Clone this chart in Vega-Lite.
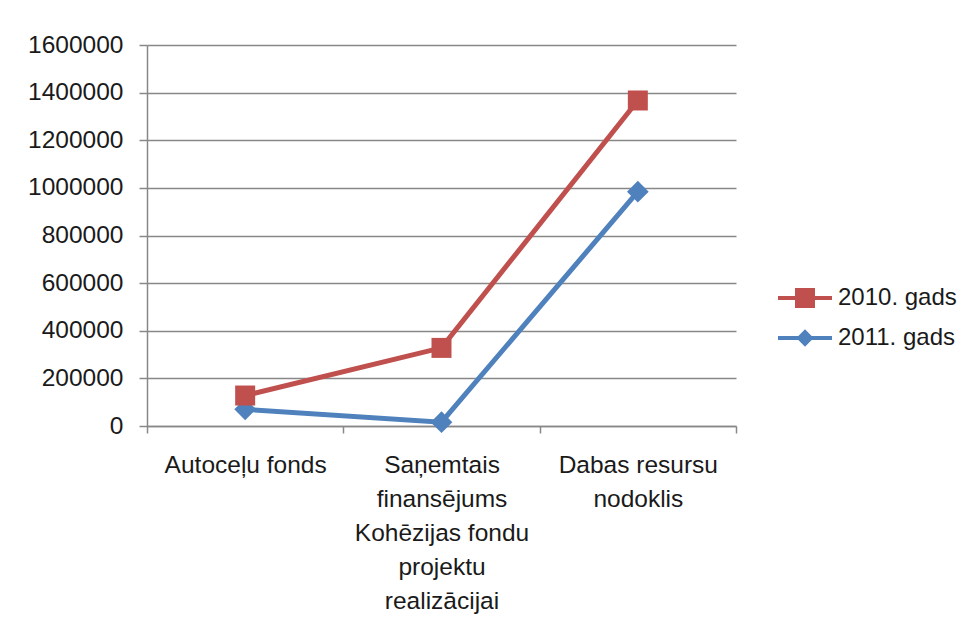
{
  "$schema": "https://vega.github.io/schema/vega-lite/v6.json",
  "autosize": "none",
  "width": 589,
  "height": 381,
  "padding": {"left": 147, "top": 45, "right": 232, "bottom": 206},
  "background": "white",
  "config": {
    "view": {"stroke": null},
    "font": "Liberation Sans",
    "axis": {"labelFont": "Liberation Sans", "labelColor": "#1a1a1a", "domainColor": "#888888", "tickColor": "#888888", "gridColor": "#888888", "domainWidth": 1.5, "tickWidth": 1.5, "gridWidth": 1.5}
  },
  "data": {
    "values": [
      {"kategorija": "Autoceļu fonds", "gads": "2011. gads", "vertiba": 70000},
      {"kategorija": "Saņemtais finansējums Kohēzijas fondu projektu realizācijai", "gads": "2011. gads", "vertiba": 16000},
      {"kategorija": "Dabas resursu nodoklis", "gads": "2011. gads", "vertiba": 984000},
      {"kategorija": "Autoceļu fonds", "gads": "2010. gads", "vertiba": 128000},
      {"kategorija": "Saņemtais finansējums Kohēzijas fondu projektu realizācijai", "gads": "2010. gads", "vertiba": 328000},
      {"kategorija": "Dabas resursu nodoklis", "gads": "2010. gads", "vertiba": 1367000}
    ]
  },
  "encoding": {
    "x": {
      "field": "kategorija",
      "type": "nominal",
      "sort": ["Autoceļu fonds", "Saņemtais finansējums Kohēzijas fondu projektu realizācijai", "Dabas resursu nodoklis"],
      "title": null,
      "scale": {"paddingInner": 0, "paddingOuter": 0},
      "axis": {
        "labelAngle": 0,
        "labelFontSize": 24.5,
        "labelLineHeight": 34,
        "labelPadding": 20,
        "labelBaseline": "top",
        "tickSize": 7,
        "tickBand": "extent",
        "grid": false,
        "labelExpr": "datum.value == 'Saņemtais finansējums Kohēzijas fondu projektu realizācijai' ? ['Saņemtais', 'finansējums', 'Kohēzijas fondu', 'projektu', 'realizācijai'] : datum.value == 'Dabas resursu nodoklis' ? ['Dabas resursu', 'nodoklis'] : datum.value"
      }
    },
    "y": {
      "field": "vertiba",
      "type": "quantitative",
      "title": null,
      "scale": {"domain": [0, 1600000], "nice": false},
      "axis": {
        "values": [0, 200000, 400000, 600000, 800000, 1000000, 1200000, 1400000, 1600000],
        "format": "d",
        "labelFontSize": 24.5,
        "labelPadding": 16,
        "tickSize": 8,
        "grid": true
      }
    },
    "color": {
      "field": "gads",
      "type": "nominal",
      "scale": {"domain": ["2010. gads", "2011. gads"], "range": ["#C0504D", "#4F81BD"]},
      "legend": {
        "title": null,
        "orient": "none",
        "legendX": 631,
        "legendY": 226,
        "padding": 0,
        "rowPadding": 1,
        "symbolSize": 2916,
        "symbolStrokeWidth": 0,
        "symbolOpacity": 1,
        "symbolFillColor": "#888888",
        "labelFontSize": 24,
        "labelColor": "#1a1a1a",
        "labelOffset": 6
      }
    }
  },
  "layer": [
    {
      "mark": {"type": "point", "filled": true, "size": 0, "opacity": 1},
      "encoding": {
        "shape": {
          "field": "gads",
          "type": "nominal",
          "scale": {"domain": ["2010. gads", "2011. gads"], "range": [
            "M-1,-0.075L1,-0.075L1,0.075L-1,0.075ZM-0.37,-0.37L0.37,-0.37L0.37,0.37L-0.37,0.37Z",
            "M-1,-0.075L1,-0.075L1,0.075L-1,0.075ZM0,-0.32L0.32,0L0,0.32L-0.32,0Z"
          ]}
        }
      }
    },
    {
      "mark": {"type": "line", "strokeWidth": 5}
    },
    {
      "mark": {"type": "point", "filled": true, "opacity": 1},
      "encoding": {
        "shape": {"condition": {"test": "datum.gads == '2010. gads'", "value": "square"}, "value": "diamond"},
        "size": {"condition": {"test": "datum.gads == '2010. gads'", "value": 400}, "value": 470}
      }
    }
  ]
}
